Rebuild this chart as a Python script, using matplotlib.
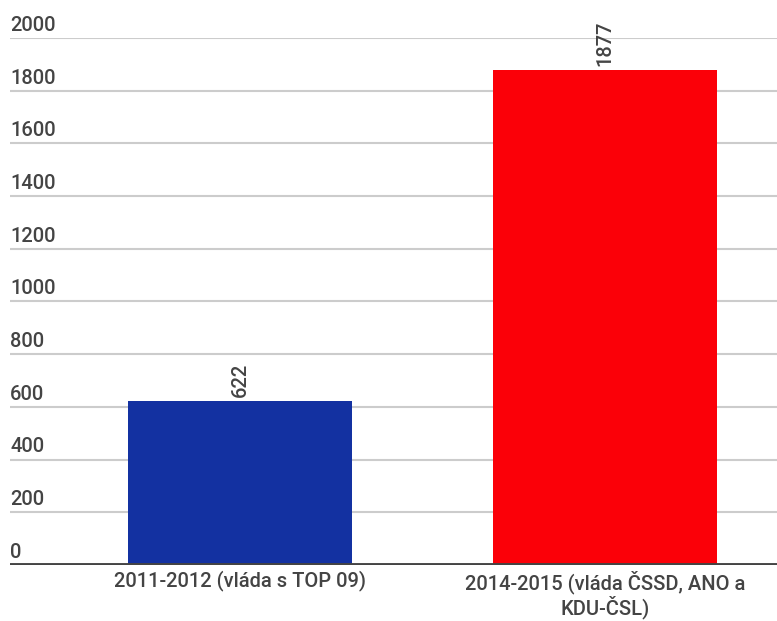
import matplotlib.pyplot as plt

# data
categories = ["2011-2012 (vláda s TOP 09)", "2014-2015 (vláda ČSSD, ANO a\nKDU-ČSL)"]
values = [622, 1877]
colors = ["#1331a1", "#fb0008"]
yticks = [0, 200, 400, 600, 800, 1000, 1200, 1400, 1600, 1800, 2000]

plt.rcParams["font.family"] = ["Roboto", "DejaVu Sans"]
text_color = "#444444"
fs = 14.5

fig = plt.figure(figsize=(7.77, 6.21), dpi=100)
ax = fig.add_axes([0.0129, 0.0902, 0.9871, 0.8486])

x = range(len(categories))
bars = ax.bar(x, values, width=0.616, color=colors, zorder=3)

for b, v in zip(bars, values):
    ax.text(b.get_x() + b.get_width() / 2, v + 15, str(v), rotation=90,
            ha="center", va="bottom", fontsize=fs, fontweight="medium",
            color=text_color, clip_on=False)

ax.set_xlim(-0.630, 1.471)
ax.set_ylim(0, 2000)

# gridlines with labels sitting above them
for t in yticks:
    if t > 0:
        ax.axhline(t, color="#cccccc", lw=1.5, zorder=1)
    ax.text(-0.630, t + 12, str(t), ha="left", va="bottom", fontsize=fs,
            fontweight="medium", color=text_color, zorder=4)
ax.axhline(0, color="#444444", lw=2.8, zorder=5)

ax.set_yticks([])
ax.set_xticks(list(x))
ax.set_xticklabels(categories, fontsize=fs, fontweight="medium",
                   color=text_color, linespacing=1.05)
ax.tick_params(axis="x", length=0, pad=4)
for s in ax.spines.values():
    s.set_visible(False)

fig.savefig("out.png", dpi=100)
